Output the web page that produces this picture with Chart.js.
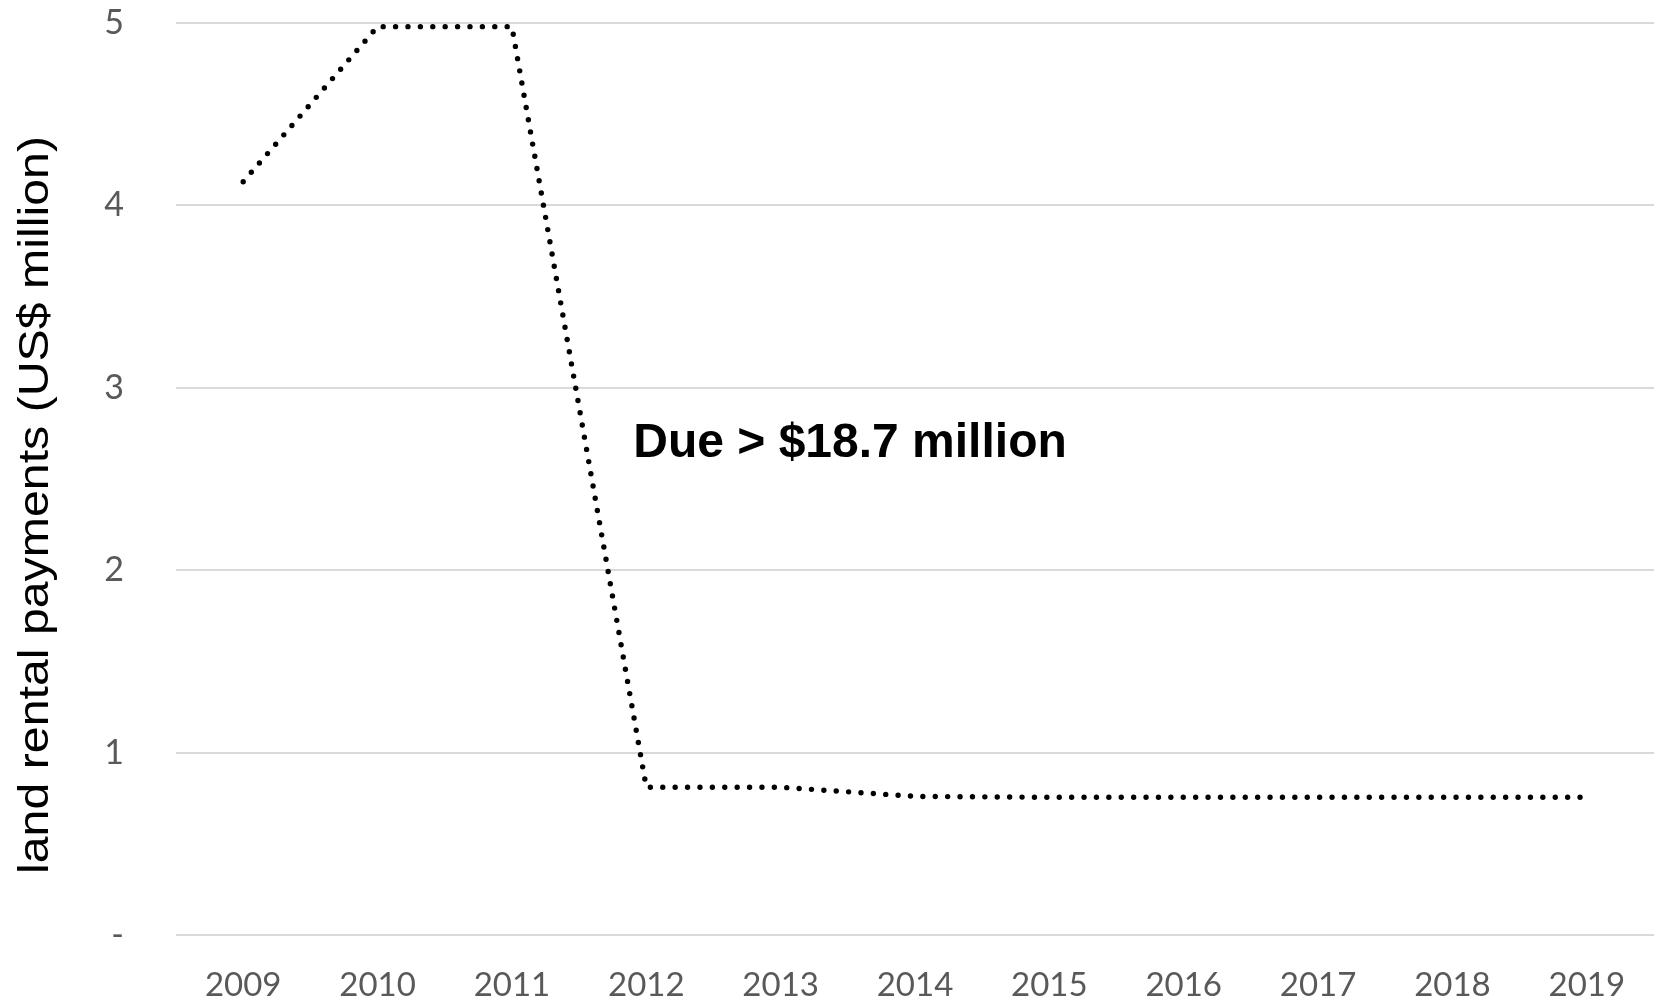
<!DOCTYPE html>
<html>
<head>
<meta charset="utf-8">
<script src="https://cdn.jsdelivr.net/npm/chart.js@4"></script>
<style>
  html, body { margin: 0; padding: 0; background: #ffffff; }
  #wrap { width: 1660px; height: 1001px; position: relative; }
  canvas { display: block; }
</style>
</head>
<body>
<div id="wrap"><canvas id="chart" width="1660" height="1001"></canvas></div>
<script>
// ---- data ----
const years = ['2009', '2010', '2011', '2012', '2013', '2014', '2015', '2016', '2017', '2018', '2019'];
const payments = [4.13, 4.98, 4.98, 0.81, 0.81, 0.76, 0.755, 0.755, 0.755, 0.755, 0.755];
const yTickValues = [0, 1, 2, 3, 4, 5];
const yTickLabels = ['-', '1', '2', '3', '4', '5'];
const yAxisTitle = 'land rental payments (US$ million)';
const annotationText = 'Due > $18.7 million';
const annotationIndex = 3;      // anchored near the 2012 category
const annotationValue = 2.62;   // baseline level on the value axis

// ---- plugin: rotated axis title and annotation ----
const textPlugin = {
  id: 'textPlugin',
  afterDraw(chart) {
    const ctx = chart.ctx;
    const area = chart.chartArea;
    const xs = chart.scales.x, ys = chart.scales.y;

    // y-axis title (rotated)
    ctx.save();
    ctx.font = '42px "Liberation Sans", Arial, sans-serif';
    ctx.fillStyle = '#000000';
    ctx.textAlign = 'center';
    ctx.textBaseline = 'middle';
    const w = ctx.measureText(yAxisTitle).width;
    const targetLen = 738;
    const cy = (area.top + area.bottom) / 2 + 26;
    ctx.translate(34, cy);
    ctx.rotate(-Math.PI / 2);
    ctx.scale(targetLen / w, 1);
    ctx.fillText(yAxisTitle, 0, 2);
    ctx.restore();

    // annotation
    ctx.save();
    ctx.font = 'bold 48px "Liberation Sans", Arial, sans-serif';
    ctx.fillStyle = '#000000';
    ctx.textAlign = 'left';
    ctx.textBaseline = 'alphabetic';
    ctx.fillText(annotationText, xs.getPixelForValue(annotationIndex) - 13, ys.getPixelForValue(annotationValue));
    ctx.restore();
  }
};

const ctx = document.getElementById('chart').getContext('2d');
new Chart(ctx, {
  type: 'line',
  data: {
    labels: years,
    datasets: [{
      data: payments,
      borderColor: '#000000',
      borderWidth: 5.4,
      borderDash: [0, 12.4],
      borderCapStyle: 'round',
      borderJoinStyle: 'round',
      pointRadius: 0,
      tension: 0,
      fill: false
    }]
  },
  options: {
    responsive: false,
    animation: false,
    devicePixelRatio: 1,
    layout: { padding: { top: 23, right: 6, bottom: 0, left: 0 } },
    plugins: { legend: { display: false }, tooltip: { enabled: false }, title: { display: false } },
    scales: {
      x: {
        type: 'category',
        offset: true,
        grid: { display: false, drawTicks: false },
        border: { display: false },
        ticks: {
          color: '#595959',
          font: { family: 'Lato, "Open Sans", sans-serif', size: 33 },
          padding: 31,
          maxRotation: 0,
          autoSkip: false
        },
        afterFit(scale) { scale.height = 66; }
      },
      y: {
        min: 0,
        max: 5,
        afterBuildTicks(scale) { scale.ticks = yTickValues.map(v => ({ value: v })); },
        grid: { color: '#d9d9d9', lineWidth: 2, drawTicks: true, tickLength: 52, tickColor: 'rgba(0,0,0,0)' },
        border: { display: false },
        ticks: {
          color: '#595959',
          font: { family: 'Lato, "Open Sans", sans-serif', size: 34 },
          padding: 0,
          callback(value) {
            const i = yTickValues.indexOf(value);
            return i >= 0 ? yTickLabels[i] : '';
          }
        },
        afterFit(scale) { scale.width = 176; }
      }
    }
  },
  plugins: [textPlugin]
});
</script>
</body>
</html>
